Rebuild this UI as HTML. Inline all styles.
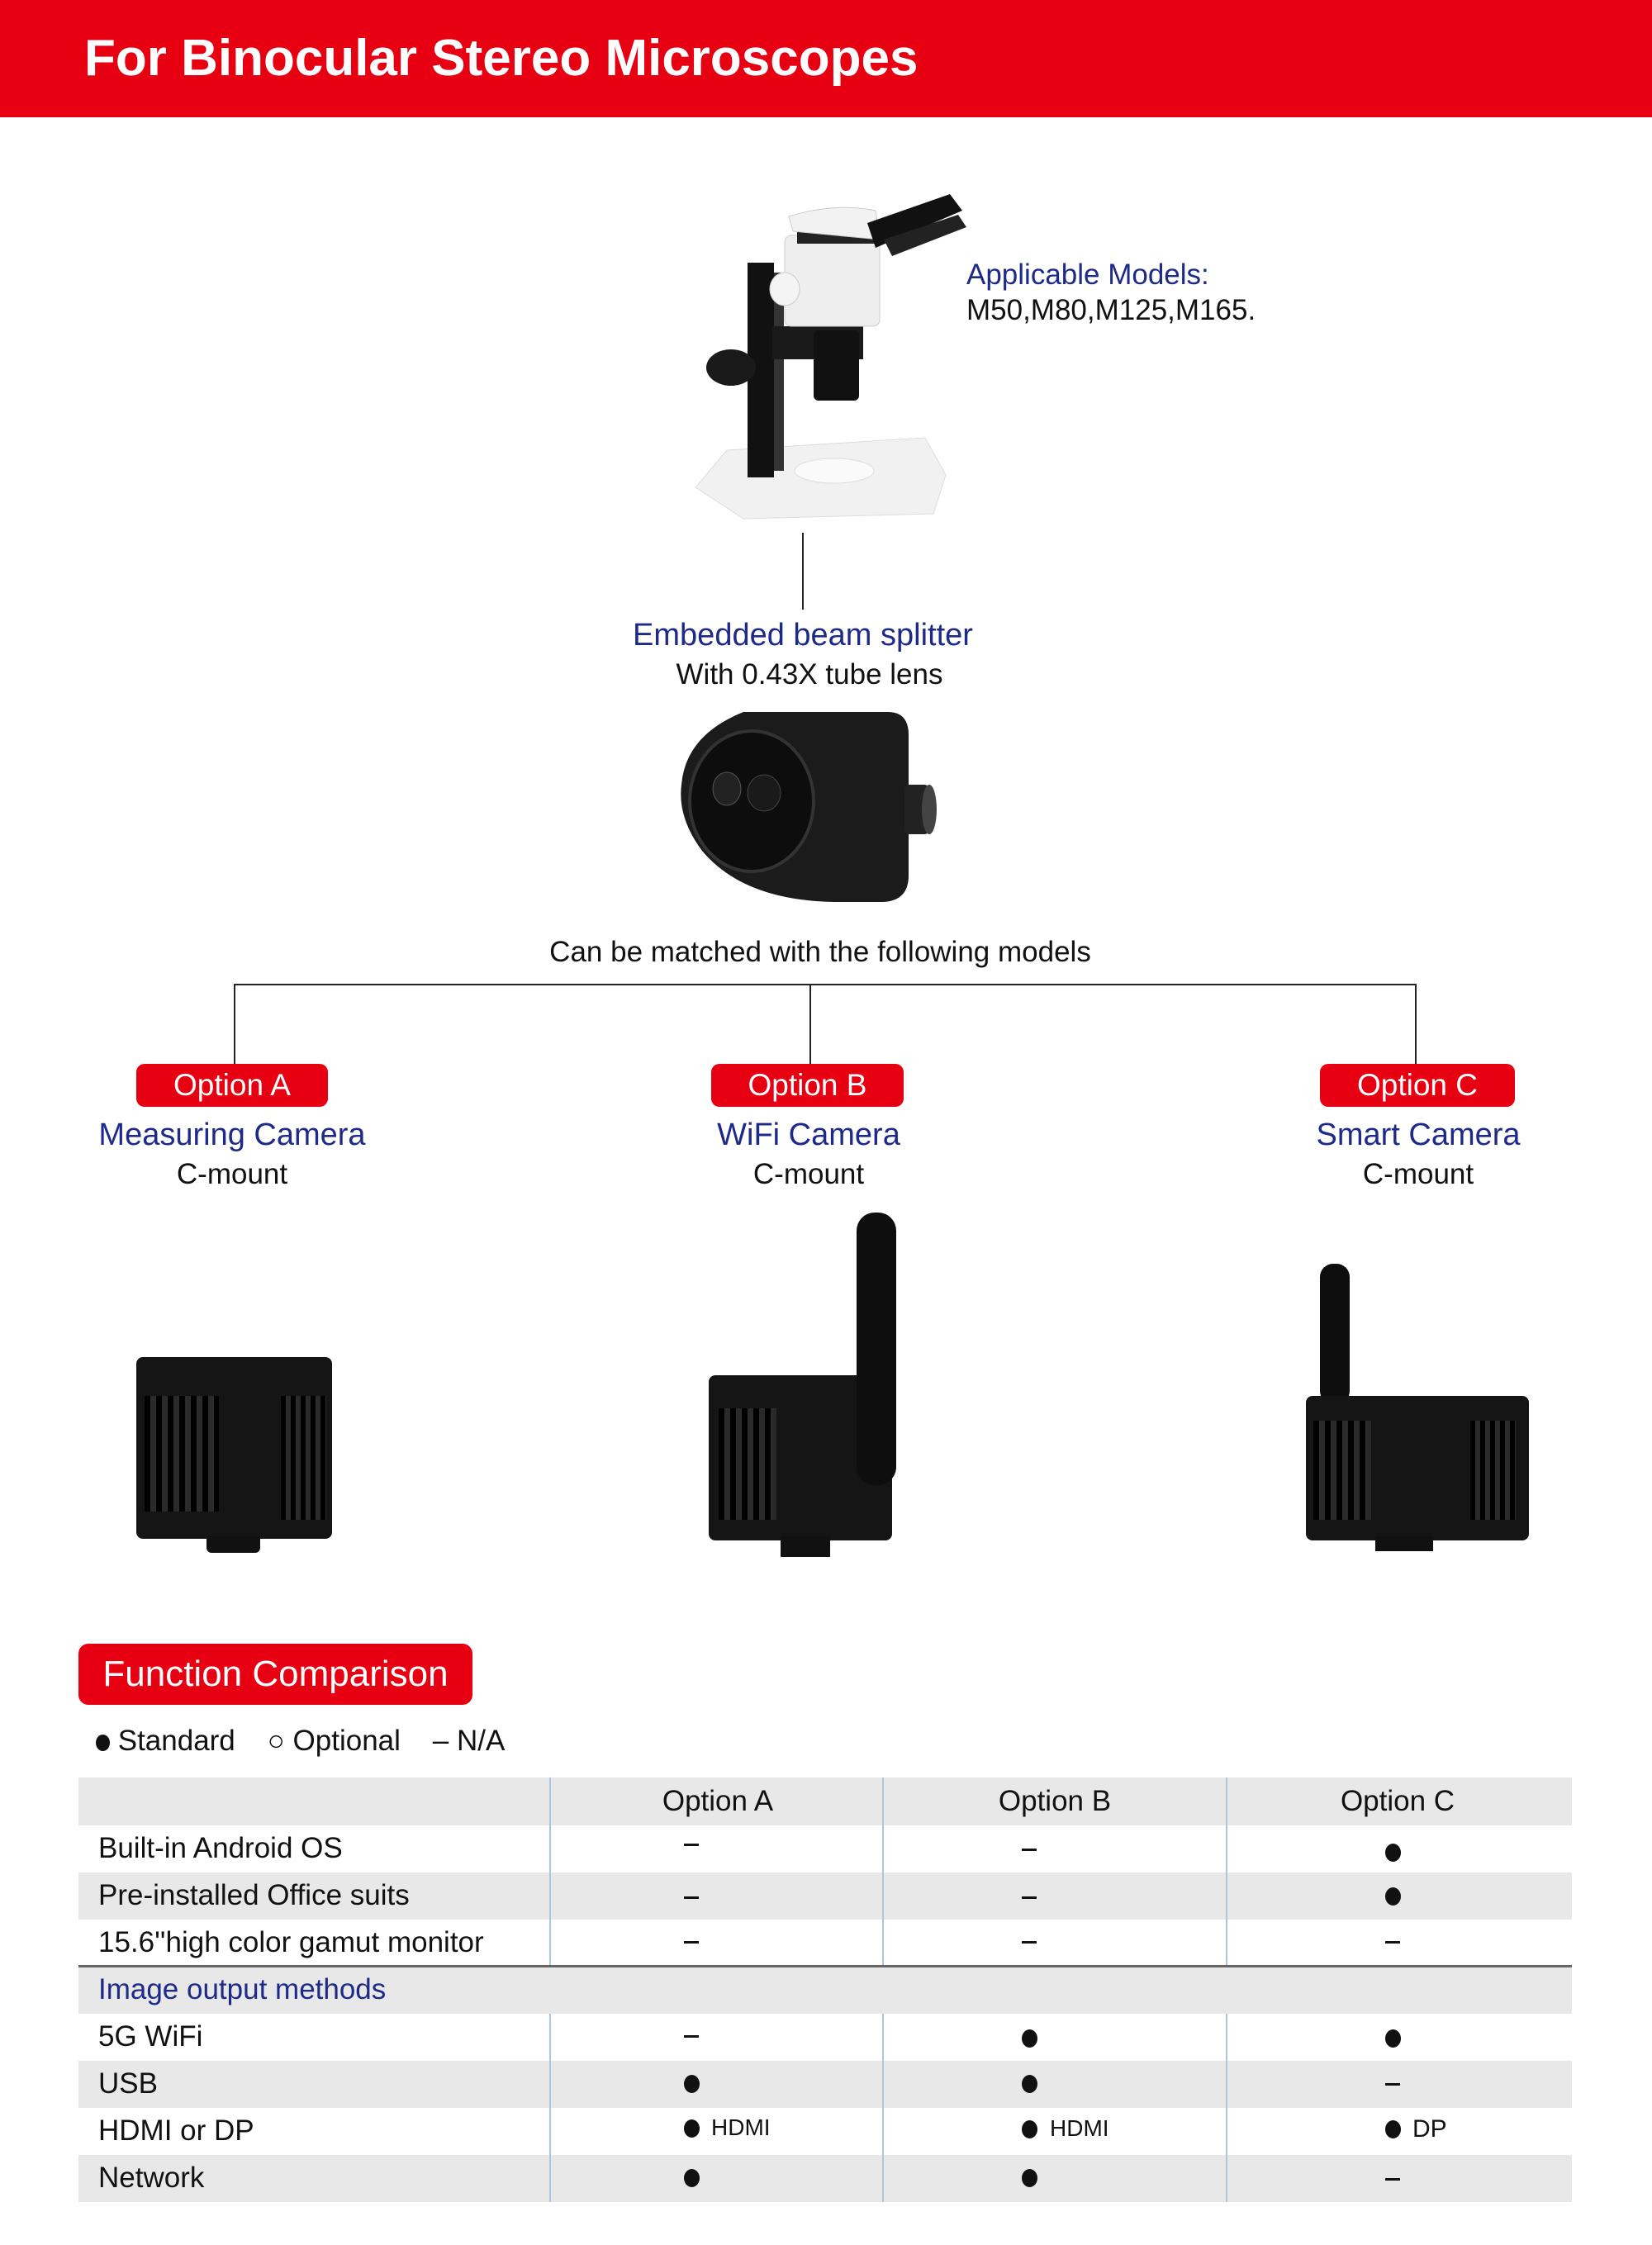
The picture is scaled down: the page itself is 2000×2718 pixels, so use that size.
<!DOCTYPE html>
<html><head><meta charset="utf-8"><style>
*{margin:0;padding:0;box-sizing:border-box}
body{width:2000px;height:2718px;background:#fff;position:relative;overflow:hidden;font-family:"Liberation Sans","DejaVu Sans",sans-serif;color:#111}
.a{position:absolute;white-space:nowrap}
.c{transform:translateX(-50%)}
.blue{color:#1e2a8a}
.badge{position:absolute;background:#e60012;color:#fff;border-radius:10px;text-align:center;font-size:37px;line-height:52px}
.row{position:absolute;left:95px;width:1808px;height:57px}
.g{background:#e8e8e8}
.cell{position:absolute;font-size:35px;line-height:57px}
.vl{position:absolute;width:2px;background:#a9c8e0}
.dot{display:inline-block;width:19px;height:22px;border-radius:50%;background:#111}
.dash{display:inline-block;width:18px;height:3px;background:#111}
</style></head><body>
<div class="a" style="left:0;top:0;width:2000px;height:142px;background:#e60012"></div>
<div class="a" style="left:102px;top:36px;font-size:62px;font-weight:bold;color:#fff;line-height:70px">For Binocular Stereo Microscopes</div>

<svg class="a" style="left:830px;top:225px" width="350" height="410" viewBox="830 225 350 410">
<polygon points="880,545 1120,530 1145,575 1130,622 900,628 842,590" fill="#f1f1f1" stroke="#ddd"/>
<ellipse cx="1010" cy="570" rx="48" ry="15" fill="#fafafa" stroke="#ddd"/>
<rect x="905" y="318" width="32" height="260" fill="#111"/>
<rect x="937" y="330" width="12" height="240" fill="#333"/>
<rect x="935" y="395" width="110" height="40" fill="#1a1a1a"/>
<ellipse cx="885" cy="445" rx="30" ry="22" fill="#1a1a1a"/>
<rect x="985" y="400" width="55" height="85" rx="6" fill="#111"/>
<rect x="950" y="285" width="115" height="110" rx="8" fill="#eee" stroke="#ccc"/>
<ellipse cx="950" cy="350" rx="18" ry="20" fill="#f4f4f4" stroke="#ccc"/>
<rect x="965" y="265" width="95" height="30" fill="#222"/>
<path d="M955 262 Q1010 245 1060 255 L1065 290 L960 280 Z" fill="#f2f2f2" stroke="#ccc"/>
<polygon points="1050,270 1150,235 1165,255 1060,300" fill="#111"/>
<polygon points="1070,290 1160,260 1170,275 1080,310" fill="#222"/>
</svg>
<div class="a blue" style="left:1170px;top:313px;font-size:35px">Applicable Models:</div>
<div class="a" style="left:1170px;top:356px;font-size:35px">M50,M80,M125,M165.</div>

<div class="a" style="left:971px;top:645px;width:2px;height:93px;background:#222"></div>
<div class="a c blue" style="left:972px;top:748px;font-size:38px">Embedded beam splitter</div>
<div class="a c" style="left:980px;top:797px;font-size:35px">With 0.43X tube lens</div>

<svg class="a" style="left:815px;top:850px" width="330" height="250" viewBox="815 850 330 250">
<path d="M900 862 L1075 862 Q1100 862 1100 890 L1100 1060 Q1100 1090 1070 1092 L1010 1092 Q900 1090 850 1030 Q820 990 825 950 Q830 890 900 862 Z" fill="#1b1b1b"/>
<ellipse cx="910" cy="970" rx="75" ry="85" fill="#0d0d0d" stroke="#333" stroke-width="4"/>
<ellipse cx="880" cy="955" rx="17" ry="20" fill="#222" stroke="#555"/>
<ellipse cx="925" cy="960" rx="20" ry="22" fill="#1a1a1a" stroke="#444"/>
<rect x="1095" y="950" width="30" height="60" rx="6" fill="#222"/>
<ellipse cx="1125" cy="980" rx="9" ry="30" fill="#444"/>
</svg>

<div class="a c" style="left:993px;top:1133px;font-size:35px">Can be matched with the following models</div>
<div class="a" style="left:284px;top:1191px;width:1431px;height:2px;background:#222"></div>
<div class="a" style="left:283px;top:1191px;width:2px;height:97px;background:#222"></div>
<div class="a" style="left:980px;top:1191px;width:2px;height:97px;background:#222"></div>
<div class="a" style="left:1713px;top:1191px;width:2px;height:97px;background:#222"></div>

<div class="badge" style="left:165px;top:1288px;width:232px">Option A</div>
<div class="badge" style="left:861px;top:1288px;width:233px">Option B</div>
<div class="badge" style="left:1598px;top:1288px;width:236px">Option C</div>
<div class="a c blue" style="left:281px;top:1353px;font-size:38px">Measuring Camera</div>
<div class="a c" style="left:281px;top:1402px;font-size:35px">C-mount</div>
<div class="a c blue" style="left:979px;top:1353px;font-size:38px">WiFi Camera</div>
<div class="a c" style="left:979px;top:1402px;font-size:35px">C-mount</div>
<div class="a c blue" style="left:1717px;top:1353px;font-size:38px">Smart Camera</div>
<div class="a c" style="left:1717px;top:1402px;font-size:35px">C-mount</div>

<!-- camera A -->
<div class="a" style="left:165px;top:1643px;width:237px;height:220px;background:#151515;border-radius:8px"></div>
<div class="a" style="left:175px;top:1690px;width:90px;height:140px;background:repeating-linear-gradient(90deg,#000 0 7px,#2a2a2a 7px 14px)"></div>
<div class="a" style="left:340px;top:1690px;width:55px;height:150px;background:repeating-linear-gradient(90deg,#000 0 6px,#2a2a2a 6px 12px)"></div>
<div class="a" style="left:250px;top:1860px;width:65px;height:20px;background:#111;border-radius:0 0 6px 6px"></div>
<!-- camera B -->
<div class="a" style="left:858px;top:1665px;width:222px;height:200px;background:#151515;border-radius:8px"></div>
<div class="a" style="left:870px;top:1705px;width:70px;height:135px;background:repeating-linear-gradient(90deg,#000 0 7px,#2a2a2a 7px 14px)"></div>
<div class="a" style="left:945px;top:1860px;width:60px;height:25px;background:#111"></div>
<div class="a" style="left:1037px;top:1468px;width:48px;height:330px;background:#0e0e0e;border-radius:22px"></div>
<!-- camera C -->
<div class="a" style="left:1598px;top:1530px;width:36px;height:170px;background:#0e0e0e;border-radius:16px"></div>
<div class="a" style="left:1581px;top:1690px;width:270px;height:175px;background:#151515;border-radius:8px"></div>
<div class="a" style="left:1590px;top:1720px;width:70px;height:120px;background:repeating-linear-gradient(90deg,#000 0 7px,#2a2a2a 7px 14px)"></div>
<div class="a" style="left:1780px;top:1720px;width:55px;height:120px;background:repeating-linear-gradient(90deg,#000 0 6px,#2a2a2a 6px 12px)"></div>
<div class="a" style="left:1665px;top:1860px;width:70px;height:18px;background:#111"></div>

<div class="badge" style="left:95px;top:1990px;width:477px;height:74px;line-height:74px;font-size:44px;border-radius:12px">Function Comparison</div>
<div class="a" style="left:116px;top:2088px;font-size:35px"><span class="dot" style="width:17px;height:20px;vertical-align:-1px"></span> Standard &nbsp;&nbsp;&nbsp;○ Optional &nbsp;&nbsp;&nbsp;– N/A</div>

<div class="row g" style="top:2152px;height:58px"></div>
<div class="row" style="top:2210px"></div>
<div class="row g" style="top:2267px"></div>
<div class="row" style="top:2324px"></div>
<div class="row" style="top:2379px;height:3px;background:#666"></div>
<div class="row g" style="top:2382px;height:56px"></div>
<div class="row g" style="top:2495px"></div>
<div class="row g" style="top:2609px"></div>
<div class="vl" style="left:665px;top:2152px;height:227px"></div>
<div class="vl" style="left:1068px;top:2152px;height:227px"></div>
<div class="vl" style="left:1484px;top:2152px;height:227px"></div>
<div class="vl" style="left:665px;top:2438px;height:228px"></div>
<div class="vl" style="left:1068px;top:2438px;height:228px"></div>
<div class="vl" style="left:1484px;top:2438px;height:228px"></div>

<div class="cell c" style="left:869px;top:2152px">Option A</div>
<div class="cell c" style="left:1277px;top:2152px">Option B</div>
<div class="cell c" style="left:1692px;top:2152px">Option C</div>

<div class="cell" style="left:119px;top:2209px">Built-in Android OS</div>
<div class="cell" style="left:119px;top:2266px">Pre-installed Office suits</div>
<div class="cell" style="left:119px;top:2323px">15.6''high color gamut monitor</div>
<div class="cell blue" style="left:119px;top:2380px">Image output methods</div>
<div class="cell" style="left:119px;top:2437px">5G WiFi</div>
<div class="cell" style="left:119px;top:2494px">USB</div>
<div class="cell" style="left:119px;top:2551px">HDMI or DP</div>
<div class="cell" style="left:119px;top:2608px">Network</div>

<!-- marks: col centers 837,1246,1686 -->
<div class="dash a" style="left:828px;top:2232px"></div>
<div class="dash a" style="left:1237px;top:2238px"></div>
<div class="dot a" style="left:1677px;top:2232px"></div>
<div class="dash a" style="left:828px;top:2296px"></div>
<div class="dash a" style="left:1237px;top:2296px"></div>
<div class="dot a" style="left:1677px;top:2285px"></div>
<div class="dash a" style="left:828px;top:2350px"></div>
<div class="dash a" style="left:1237px;top:2350px"></div>
<div class="dash a" style="left:1677px;top:2350px"></div>
<div class="dash a" style="left:828px;top:2464px"></div>
<div class="dot a" style="left:1237px;top:2457px"></div>
<div class="dot a" style="left:1677px;top:2457px"></div>
<div class="dot a" style="left:828px;top:2512px"></div>
<div class="dot a" style="left:1237px;top:2512px"></div>
<div class="dash a" style="left:1677px;top:2522px"></div>
<div class="dot a" style="left:828px;top:2566px"></div><div class="a" style="left:861px;top:2560px;font-size:28px">HDMI</div>
<div class="dot a" style="left:1237px;top:2567px"></div><div class="a" style="left:1271px;top:2561px;font-size:28px">HDMI</div>
<div class="dot a" style="left:1677px;top:2567px"></div><div class="a" style="left:1710px;top:2561px;font-size:30px">DP</div>
<div class="dot a" style="left:828px;top:2626px"></div>
<div class="dot a" style="left:1237px;top:2626px"></div>
<div class="dash a" style="left:1677px;top:2637px"></div>
</body></html>
